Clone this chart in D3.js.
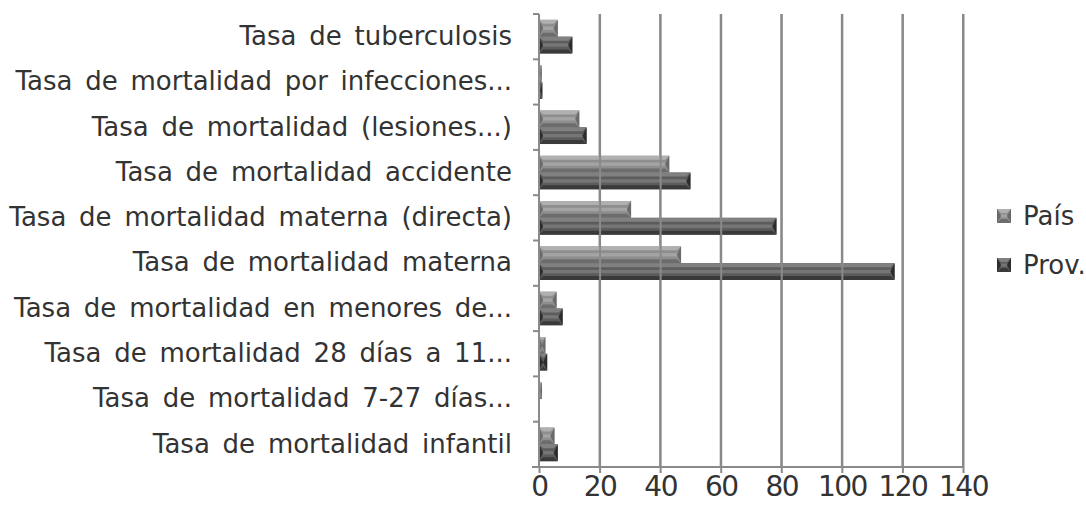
<!DOCTYPE html>
<html>
<head>
<meta charset="utf-8">
<script src="https://cdn.jsdelivr.net/npm/d3@7"></script>
<style>
  body { margin: 0; background: #fff; }
  #canvas { width: 1086px; height: 505px; }
  text { font-family: "DejaVu Sans", sans-serif; fill: #333; }
</style>
</head>
<body>
<div id="canvas" class="canvas"></div>
<script>
//---- ---- DATA ---- ----
var categories = [
  'Tasa de tuberculosis',
  'Tasa de mortalidad por infecciones...',
  'Tasa de mortalidad (lesiones...)',
  'Tasa de mortalidad accidente',
  'Tasa de mortalidad materna (directa)',
  'Tasa de mortalidad materna',
  'Tasa de mortalidad en menores de...',
  'Tasa de mortalidad 28 días a 11...',
  'Tasa de mortalidad 7-27 días...',
  'Tasa de mortalidad infantil'
];
var pais = [6.2, 0.9, 13.3, 43, 30.4, 46.9, 5.8, 2.1, 1.0, 5.1];
var prov = [11, 1.1, 15.7, 50, 78.4, 117.4, 7.8, 2.7, 0, 6.2];
var seriesNames = ['País', 'Prov.'];
var xTicks = [0, 20, 40, 60, 80, 100, 120, 140];

//---- ---- MARGIN CONVENTION ---- ----
var m = {t:14, r:123, b:38, l:539};
var outerWidth = 1086, outerHeight = 505;
var w = outerWidth - m.l - m.r,
    h = outerHeight - m.t - m.b;

var svg = d3.select('.canvas')
  .append('svg')
  .attr('width', outerWidth)
  .attr('height', outerHeight);

var plot = svg.append('g')
  .attr('transform', 'translate(' + m.l + ',' + m.t + ')');

//---- ---- SCALES ---- ----
var scaleX = d3.scaleLinear().domain([0, 140]).range([0, w]);
var scaleY = d3.scaleBand().domain(categories).range([0, h]);
var scaleS = d3.scaleBand().domain(seriesNames).range([0, scaleY.bandwidth()]).paddingOuter(0.35);

// bevel palettes: base, top, bottom, side, stripe
var pal = {
  'País':  {base:'#8e8e8e', top:'#b0b0b0', bot:'#6c6c6c', side:'#6a6a6a', stripe:'#a4a4a4'},
  'Prov.': {base:'#5c5c5c', top:'#808080', bot:'#3a3a3a', side:'#2c2c2c', stripe:'#767676'}
};

//---- ---- GRID ---- ----
plot.append('g').selectAll('line')
  .data(xTicks.slice(1))
  .enter().append('line')
  .attr('x1', function(d){ return scaleX(d); })
  .attr('x2', function(d){ return scaleX(d); })
  .attr('y1', 0).attr('y2', h)
  .attr('stroke', '#8a8a8a').attr('stroke-width', 2);

//---- ---- BARS ---- ----
function bevel(g, x, y, bw, bh, p) {
  if (bw <= 0) return;
  var b = Math.min(4, bw / 2, bh / 2);
  g.append('rect').attr('x', x).attr('y', y).attr('width', bw).attr('height', bh).attr('fill', p.base);
  g.append('rect').attr('x', x + b).attr('y', y + bh * 0.4).attr('width', Math.max(0, bw - 2*b)).attr('height', bh * 0.2).attr('fill', p.stripe);
  g.append('polygon').attr('fill', p.top)
    .attr('points', [[x,y],[x+bw,y],[x+bw-b,y+b],[x+b,y+b]].join(' '));
  g.append('polygon').attr('fill', p.bot)
    .attr('points', [[x,y+bh],[x+bw,y+bh],[x+bw-b,y+bh-b],[x+b,y+bh-b]].join(' '));
  g.append('polygon').attr('fill', p.side)
    .attr('points', [[x,y],[x+b,y+bh/2],[x,y+bh]].join(' '));
  g.append('polygon').attr('fill', p.side)
    .attr('points', [[x+bw,y],[x+bw-b,y+bh/2],[x+bw,y+bh]].join(' '));
}

var bars = plot.append('g');
categories.forEach(function(c, i) {
  [pais[i], prov[i]].forEach(function(v, j) {
    var s = seriesNames[j];
    bevel(bars, scaleX(0), scaleY(c) + scaleS(s), scaleX(v) - scaleX(0), scaleS.bandwidth(), pal[s]);
  });
});

//---- ---- AXES ---- ----
var axisX = d3.axisBottom(scaleX).tickValues(xTicks).tickSize(6).tickPadding(3);
var gx = plot.append('g').attr('class', 'axis axis-x')
  .attr('transform', 'translate(0,' + h + ')')
  .call(axisX);
gx.select('.domain').attr('d', 'M-7,0H' + w).attr('stroke', '#8a8a8a').attr('stroke-width', 2);
gx.selectAll('.tick line').attr('stroke', '#8a8a8a').attr('stroke-width', 2).attr('y1', -h).attr('y2', 6).filter(function(d){ return d === 0; }).attr('y1', 0);
gx.selectAll('.tick text').attr('font-size', 28).attr('letter-spacing', '-1.5px')
  .attr('font-family', '"DejaVu Sans Condensed", sans-serif').attr('fill', '#333');

var axisY = d3.axisLeft(scaleY).tickSize(0).tickPadding(27);
var gy = plot.append('g').attr('class', 'axis axis-y').call(axisY);
gy.select('.domain').remove();
gy.selectAll('.tick text').attr('font-size', 26).attr('word-spacing', '4.5px')
  .attr('font-family', '"DejaVu Sans", sans-serif').attr('fill', '#333');

// category boundary ticks
plot.append('g').selectAll('line')
  .data(categories)
  .enter().append('line')
  .attr('x1', -6).attr('x2', 0)
  .attr('y1', function(d){ return scaleY(d); })
  .attr('y2', function(d){ return scaleY(d); })
  .attr('stroke', '#8a8a8a').attr('stroke-width', 2);
plot.append('line').attr('x1', 0).attr('x2', 0).attr('y1', 0).attr('y2', h)
  .attr('stroke', '#8a8a8a').attr('stroke-width', 2);

//---- ---- LEGEND ---- ----
var legend = svg.append('g').attr('transform', 'translate(997,209)');
seriesNames.forEach(function(s, i) {
  var lg = legend.append('g').attr('transform', 'translate(0,' + (i * 49) + ')');
  bevel(lg, 0, 0, 14, 14, pal[s]);
  lg.append('text').attr('x', 26).attr('y', 7).attr('dy', '0.35em')
    .attr('font-size', 26).text(s);
});
</script>
</body>
</html>
